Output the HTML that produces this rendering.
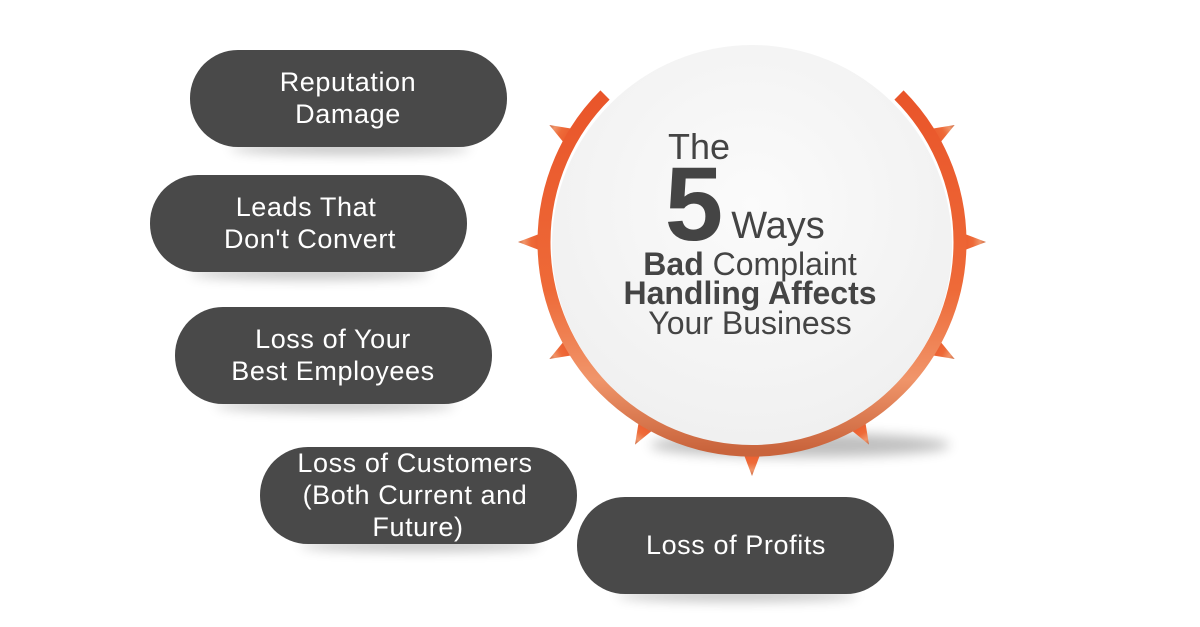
<!DOCTYPE html>
<html><head><meta charset="utf-8"><style>
body{margin:0;background:#fff;width:1200px;height:627px;overflow:hidden}
svg{display:block}
text{font-family:"Liberation Sans",sans-serif}
</style></head><body>
<svg width="1200" height="627" viewBox="0 0 1200 627">
<defs>
<linearGradient id="og" x1="0" y1="0" x2="0" y2="1">
<stop offset="0" stop-color="#e9552a"/><stop offset="0.55" stop-color="#ee6a38"/><stop offset="0.8" stop-color="#f0956a"/><stop offset="1" stop-color="#c9643c"/>
</linearGradient>
<radialGradient id="wg" cx="0.5" cy="0.4" r="0.6">
<stop offset="0" stop-color="#fbfbfb"/><stop offset="1" stop-color="#f0f0f0"/>
</radialGradient>
<filter id="sh" x="-20%" y="-20%" width="140%" height="160%"><feGaussianBlur stdDeviation="6"/></filter>
</defs>
<g fill="#000" opacity="0.25" filter="url(#sh)">
<ellipse cx="350" cy="148" rx="120" ry="6"/>
<ellipse cx="310" cy="273" rx="120" ry="6"/>
<ellipse cx="335" cy="405" rx="120" ry="6"/>
<ellipse cx="420" cy="545" rx="120" ry="6"/>
<ellipse cx="737" cy="595" rx="120" ry="6"/>
<ellipse cx="800" cy="445" rx="150" ry="12"/>
</g>
<g fill="url(#og)">
<g transform="translate(752,242)">
<polygon points="-11,205 11,205 0,234" transform="rotate(60)"/>
<polygon points="-11,205 11,205 0,234" transform="rotate(90)"/>
<polygon points="-11,205 11,205 0,234" transform="rotate(120)"/>
<polygon points="-11,205 11,205 0,234" transform="rotate(30)"/>
<polygon points="-11,205 11,205 0,234" transform="rotate(0)"/>
<polygon points="-11,205 11,205 0,234" transform="rotate(-30)"/>
<polygon points="-11,205 11,205 0,234" transform="rotate(-60)"/>
<polygon points="-11,205 11,205 0,234" transform="rotate(-90)"/>
<polygon points="-11,205 11,205 0,234" transform="rotate(-120)"/>
</g>
</g>
<path d="M 605 95 A 208 208 0 1 0 899 95" fill="none" stroke="url(#og)" stroke-width="13"/>
<circle cx="752" cy="245" r="200" fill="url(#wg)"/>
<g fill="#444" text-anchor="middle">
<text x="699" y="159" font-size="36">The</text>
<text x="694" y="240" font-size="105" font-weight="bold">5</text>
<text x="778" y="238" font-size="38">Ways</text>
<text x="750" y="275" font-size="32"><tspan font-weight="bold">Bad</tspan> Complaint</text>
<text x="750" y="304" font-size="32" font-weight="bold">Handling Affects</text>
<text x="750" y="334" font-size="32">Your Business</text>
</g>
<g fill="#494949">
<rect x="190" y="50" width="317" height="97" rx="48"/>
<rect x="150" y="175" width="317" height="97" rx="48"/>
<rect x="175" y="307" width="317" height="97" rx="48"/>
<rect x="260" y="447" width="317" height="97" rx="48"/>
<rect x="577" y="497" width="317" height="97" rx="48"/>
</g>
<g fill="#fff" font-size="27" letter-spacing="0.6" text-anchor="middle">
<text x="348" y="91">Reputation</text><text x="348" y="123">Damage</text>
<text x="306" y="216">Leads That</text><text x="310" y="248">Don't Convert</text>
<text x="333" y="348">Loss of Your</text><text x="333" y="380">Best Employees</text>
<text x="415" y="472">Loss of Customers</text><text x="415" y="504">(Both Current and</text><text x="418" y="536">Future)</text>
<text x="736" y="554">Loss of Profits</text>
</g>
</svg>
</body></html>
